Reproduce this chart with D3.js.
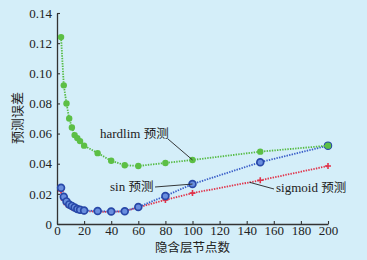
<!DOCTYPE html>
<html>
<head>
<meta charset="utf-8">
<script src="https://cdn.jsdelivr.net/npm/d3@7"></script>
<style>
  html, body { margin: 0; padding: 0; background: #d4eef9; }
  svg text { font-family: "Liberation Serif", "DejaVu Serif", serif; fill: #222; }
  .cjk { font-family: "Noto Sans CJK SC", sans-serif; }
</style>
</head>
<body>
<div class="chart"></div>
<script>
// Data
const nodes = [3, 5, 7, 9, 11, 13, 15, 17, 20, 30, 40, 50, 60, 80, 100, 150, 200];
const hardlim = [0.124, 0.092, 0.080, 0.070, 0.064, 0.059, 0.057, 0.055, 0.052, 0.047, 0.042, 0.039, 0.0385, 0.0405, 0.0425, 0.048, 0.052];
const sinErr = [0.024, 0.018, 0.015, 0.013, 0.012, 0.011, 0.010, 0.0095, 0.009, 0.0086, 0.0083, 0.0085, 0.0113, 0.0186, 0.0265, 0.041, 0.052];
const sigmoid = [0.022, 0.016, 0.013, 0.012, 0.011, 0.010, 0.0095, 0.009, 0.0085, 0.0082, 0.008, 0.0085, 0.011, 0.016, 0.0205, 0.029, 0.0385];
const xTicks = d3.range(0, 201, 20);
const yTicks = [0, 0.02, 0.04, 0.06, 0.08, 0.10, 0.12, 0.14];

// Dimensions
const W = 367, H = 260;
const margin = { top: 13, right: 37, bottom: 36, left: 57 };

const svg = d3.select('.chart').append('svg')
    .attr('width', W)
    .attr('height', H);

const x = d3.scaleLinear().domain([0, 200]).range([margin.left, W - margin.right - 2]);
const y = d3.scaleLinear().domain([0, 0.14]).range([H - margin.bottom, margin.top]);

// Axes
const xAxis = svg.append('g')
    .attr('transform', `translate(0, ${y(0)})`)
    .call(d3.axisBottom(x).tickValues(xTicks).tickSizeInner(-3).tickSizeOuter(0).tickPadding(2).tickFormat(d3.format('d')));
const yAxis = svg.append('g')
    .attr('transform', `translate(${x(0)}, 0)`)
    .call(d3.axisLeft(y).tickValues(yTicks).tickSizeInner(-3).tickSizeOuter(0).tickPadding(5)
        .tickFormat(d => d === 0 ? '0' : d3.format('.2f')(d)));

[xAxis, yAxis].forEach(a => {
    a.select('.domain').attr('stroke', '#333').attr('stroke-width', 1.3);
    a.selectAll('.tick line').attr('stroke', '#333').attr('stroke-width', 1.1);
    a.selectAll('.tick text').attr('font-size', 13).attr('fill', '#222')
        .style('font-family', '"Liberation Serif", serif');
});

// Axis titles
svg.append('text').attr('class', 'cjk')
    .attr('x', x(100)).attr('y', 252)
    .attr('text-anchor', 'middle').attr('font-size', 12.5)
    .text('隐含层节点数');
svg.append('text').attr('class', 'cjk')
    .attr('transform', `translate(22, 118) rotate(-90)`)
    .attr('text-anchor', 'middle').attr('font-size', 13)
    .text('预测误差');

const line = d3.line().x((d, i) => x(nodes[i])).y(d => y(d));

function drawSeries(vals, color) {
    svg.append('path')
        .datum(vals)
        .attr('fill', 'none')
        .attr('stroke', color)
        .attr('stroke-width', 1.8)
        .attr('stroke-dasharray', '1.4,1.2')
        .attr('d', line);
}

// sigmoid (red, plus markers)
drawSeries(sigmoid, '#e0334a');
svg.append('g').selectAll('path')
    .data(sigmoid)
    .join('path')
    .attr('d', (d, i) => {
        const cx = x(nodes[i]), cy = y(d), s = 3;
        return `M${cx - s},${cy}H${cx + s}M${cx},${cy - s}V${cy + s}`;
    })
    .attr('stroke', '#e0334a')
    .attr('stroke-width', 1.6);

// sin (blue, ring markers)
drawSeries(sinErr, '#3a5ec8');
svg.append('g').selectAll('circle')
    .data(sinErr)
    .join('circle')
    .attr('cx', (d, i) => x(nodes[i]))
    .attr('cy', d => y(d))
    .attr('r', 3.4)
    .attr('fill', '#6a8ede')
    .attr('stroke', '#2848a8')
    .attr('stroke-width', 1.7);

// hardlim (green, filled dots)
drawSeries(hardlim, '#55bb44');
svg.append('g').selectAll('circle')
    .data(hardlim)
    .join('circle')
    .attr('cx', (d, i) => x(nodes[i]))
    .attr('cy', d => y(d))
    .attr('r', 3.2)
    .attr('fill', '#5cbf45');

// Annotations
const notes = [
    { label: 'hardlim', tx: 100, ty: 138, lx1: 168, ly1: 139, px: 100, py: 0.0425 },
    { label: 'sin', tx: 110, ty: 191, lx1: 155, ly1: 187, px: 100, py: 0.0265 },
    { label: 'sigmoid', tx: 276, ty: 192, lx1: 274, ly1: 189, px: 142, py: 0.0277 }
];
notes.forEach(n => {
    svg.append('line')
        .attr('x1', n.lx1).attr('y1', n.ly1)
        .attr('x2', x(n.px)).attr('y2', y(n.py))
        .attr('stroke', '#222').attr('stroke-width', 0.9);
    const t = svg.append('text')
        .attr('x', n.tx).attr('y', n.ty)
        .attr('font-size', 13);
    t.append('tspan').text(n.label + ' ');
    t.append('tspan').attr('class', 'cjk').attr('font-size', 12.5).text('预测');
});
</script>
</body>
</html>
